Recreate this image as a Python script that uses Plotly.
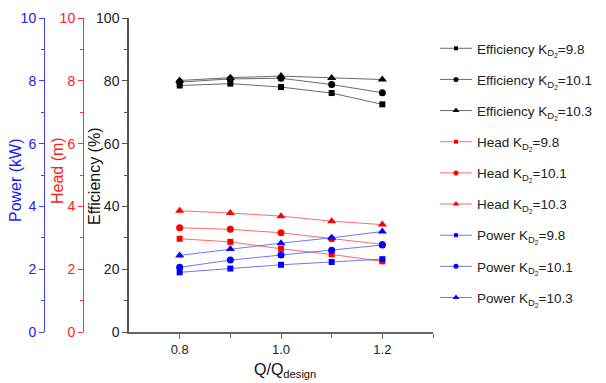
import plotly.graph_objects as go

q = [0.8, 0.9, 1.0, 1.1, 1.2]
k_labels = ["9.8", "10.1", "10.3"]

eff_98 = [78.5, 79.1, 78.0, 76.1, 72.5]
eff_101 = [79.6, 80.6, 80.8, 78.8, 76.2]
eff_103 = [80.1, 81.0, 81.5, 80.9, 80.4]

head_98 = [2.97, 2.87, 2.65, 2.47, 2.25]
head_101 = [3.32, 3.27, 3.16, 2.97, 2.79]
head_103 = [3.86, 3.79, 3.69, 3.53, 3.42]

power_98 = [1.90, 2.02, 2.14, 2.23, 2.32]
power_101 = [2.06, 2.29, 2.45, 2.60, 2.77]
power_103 = [2.44, 2.64, 2.83, 3.00, 3.20]

symbols = ["square", "circle", "triangle-up"]
sizes = [6, 7, 8]
legend_sizes = [4, 5, 6]

groups = [
    ("Efficiency", [eff_98, eff_101, eff_103], "y", "rgba(90,90,90,0.9)", "#000000"),
    ("Head", [head_98, head_101, head_103], "y2", "rgba(255,80,80,0.85)", "#ff0000"),
    ("Power", [power_98, power_101, power_103], "y3", "rgba(90,90,255,0.85)", "#0000ff"),
]

fig = go.Figure()
i = 0
for name, series, yax, lcol, mcol in groups:
    for k, vals, sym, sz, lsz in zip(k_labels, series, symbols, sizes, legend_sizes):
        fig.add_trace(go.Scatter(
            x=q, y=vals, yaxis=yax, mode="lines+markers",
            line=dict(color=lcol, width=1),
            marker=dict(symbol=sym, size=sz, color=mcol),
            showlegend=False, legendgroup=f"g{i}",
        ))
        fig.add_trace(go.Scatter(
            x=[None], y=[None], yaxis=yax, mode="lines+markers",
            name=f"{name} K<sub>D<sub>2</sub></sub>={k}",
            line=dict(color=lcol, width=1),
            marker=dict(symbol=sym, size=lsz, color=mcol),
            legendgroup=f"g{i}",
        ))
        i += 1

font = "Liberation Sans, Arial, sans-serif"
W, H = 606, 383
MT, MB = 18, H - 332
PH = H - MT - MB


def fx(px):
    return px / W


def py2y(py):
    return (H - MB - py) / PH


fig.update_layout(
    width=W, height=H,
    margin=dict(l=0, r=0, t=MT, b=MB, autoexpand=False),
    paper_bgcolor="white", plot_bgcolor="white",
    font=dict(family=font, size=14, color="#222"),
    showlegend=True,
    legend=dict(x=fx(435), y=py2y(33), xanchor="left", yanchor="top",
                font=dict(size=13.5, color="#222"), tracegroupgap=10.6,
                bgcolor="rgba(0,0,0,0)", itemwidth=32),
    xaxis=dict(domain=[fx(129), fx(433)], range=[0.7, 1.3], tickvals=[0.8, 1.0, 1.2],
               ticktext=["0.8", "1.0", "1.2"], ticks="outside", ticklen=5,
               tickcolor="#666", showline=True, linecolor="#666", linewidth=1.5,
               showgrid=False, zeroline=False, tickfont=dict(size=13),
               minor=dict(tickvals=[0.9, 1.1, 1.3], ticks="outside", ticklen=4, tickcolor="#666")),
    yaxis=dict(domain=[0, 1], range=[0, 100], dtick=20, ticks="outside", ticklen=5,
               tickcolor="#555", showline=True, linecolor="#555", linewidth=1.5,
               showgrid=False, zeroline=False, tickfont=dict(size=14, color="#222"),
               minor=dict(dtick=10, ticks="outside", ticklen=3, tickcolor="#555")),
    yaxis2=dict(overlaying="y", anchor="free", position=fx(83), range=[0, 10], dtick=2,
                ticks="outside", ticklen=5, tickcolor="#ff3030", showline=True,
                linecolor="#ff3030", linewidth=1, showgrid=False, zeroline=False,
                tickfont=dict(size=14, color="#ff2020"),
                minor=dict(dtick=1, ticks="outside", ticklen=3, tickcolor="#ff3030")),
    yaxis3=dict(overlaying="y", anchor="free", position=fx(44), range=[0, 10], dtick=2,
                ticks="outside", ticklen=5, tickcolor="#4040ff", showline=True,
                linecolor="#4040ff", linewidth=1, showgrid=False, zeroline=False,
                tickfont=dict(size=14, color="#2020ff"),
                minor=dict(dtick=1, ticks="outside", ticklen=3, tickcolor="#4040ff")),
)

ann = [
    ("Power (kW)", 15, 180, "#1a1aff"),
    ("Head (m)", 57, 171, "#ff2020"),
    ("Efficiency (%)", 94, 176, "#111"),
]
for text, px, py, col in ann:
    fig.add_annotation(text=text, x=fx(px), y=py2y(py), xref="paper", yref="paper",
                       showarrow=False, textangle=-90, font=dict(size=16, color=col),
                       xanchor="center", yanchor="middle")
fig.add_annotation(text="Q/Q<sub>design</sub>", x=fx(285), y=py2y(370),
                   xref="paper", yref="paper", showarrow=False,
                   font=dict(size=16, color="#111"), xanchor="center", yanchor="middle")

fig.write_html("out.html")
